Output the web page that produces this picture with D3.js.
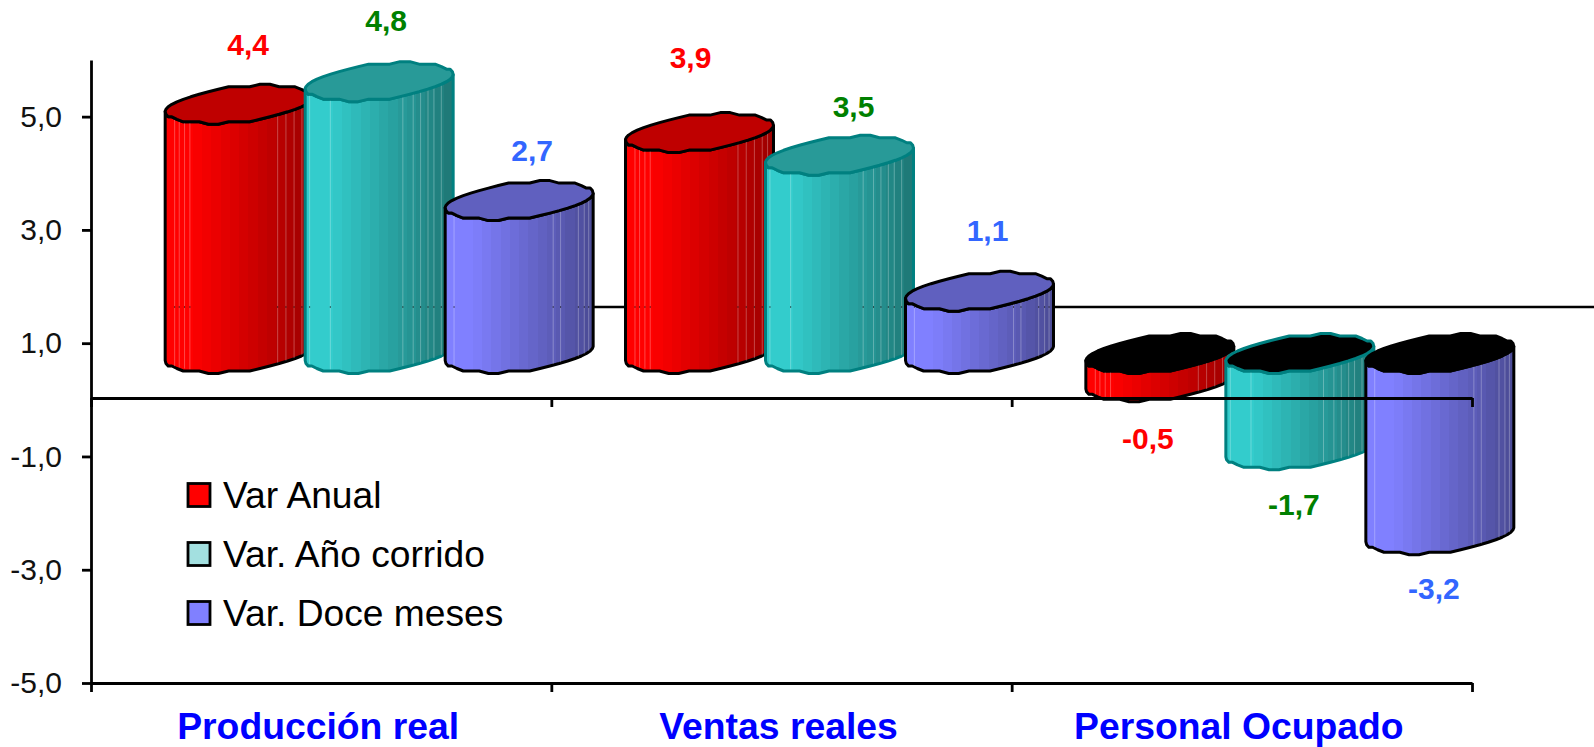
<!DOCTYPE html>
<html><head><meta charset="utf-8">
<script src="https://cdnjs.cloudflare.com/ajax/libs/d3/7.8.5/d3.min.js"></script>
<style>html,body{margin:0;padding:0;background:#fff}svg{display:block}text{font-family:"Liberation Sans",Arial,sans-serif}</style>
</head><body><svg id="c" width="1594" height="747"></svg>
<script>
const categories = ["Producción real","Ventas reales","Personal Ocupado"];
const seriesNames = ["Var Anual","Var. Año corrido","Var. Doce meses"];
const varAnual = [4.4,3.9,-0.5];
const varAnioCorrido = [4.8,3.5,-1.7];
const varDoceMeses = [2.7,1.1,-3.2];
const seriesValues = [varAnual,varAnioCorrido,varDoceMeses];
const yTicks = [5,3,1,-1,-3,-5];

// styling and layout, kept apart from the data
const sideLeft = ["#ff0000","#33cccc","#8080ff"];
const sideRight = ["#a00000","#1f7a78","#4d4d99"];
const topFill = ["#bf0000","#289a98","#6060bf"];
const strokes = ["#000","#008080","#000"];
const labelColors = ["#ff0000","#008000","#3366ff"];
const legendFill = ["#ff0000","#a3e0e0","#8080ff"];
const seams = [[.064,.095,.131,.167,.76,.816,.871,.924,.96],[.03,.17,.66,.73,.78,.83,.87,.92],[.06,.73,.78,.9,.94,.97]];
const labelNudge = [ // [dx,dy] per category, per series
 [[9,-0.5],[7,-1.5],[13,9.5]],
 [[-9,-15.5],[14,10.5],[8,-1.5]],
 [[-12,3.5],[-6,1.5],[-6,0.5]]];

const svg = d3.select("#c");
const L=91,R=1472,T=60,B=683;
const y = d3.scaleLinear().domain([-5,6]).range([B,T]);
const zeroY = 398;
const x0 = d3.scaleBand().domain(categories).range([L,R]);
const xEdges = d3.scaleLinear().domain([0,3]).range([L,R]);
const x1 = d3.scaleBand().domain(seriesNames).range([-210,210]);
const DX=58, DY=-44.5, WALLY=307, WALLX=207;
const a=x1.bandwidth()*1.057/2, b=17.5, k=7;

function ell(cx,cy,t){return [cx+a*Math.cos(t), cy+b*Math.sin(t)-k*Math.cos(t)];}
function snap(p,cy,tEnd){ return [p[0], tEnd?p[1]:cy+Math.round((p[1]-cy)/2.5)*2.5]; }
const N=22;
// front arc, left to right; t from PI to 0
function frontArc(cx,cy){
  return d3.range(N+1).map(i=>{const t=Math.PI*(1-i/N);return snap(ell(cx,cy,t),cy,i===0||i===N);});
}
function backArc(cx,cy){
  return d3.range(N+1).map(i=>{const t=-Math.PI*(i/N);return snap(ell(cx,cy,t),cy,i===0||i===N);}); // right to left over back
}
const line=d3.line();
const defs=svg.append("defs");
seriesNames.forEach((s,j)=>{
  const g=defs.append("linearGradient").attr("id","g"+j);
  const c=d3.interpolateRgb(sideLeft[j],sideRight[j]), n=16;
  d3.range(n).forEach(i=>{
    const f0=i/n,f1=(i+1)/n, v=Math.max(0,(f0-.14)/.8);
    const col=c(Math.min(1,v));
    g.append("stop").attr("offset",f0).attr("stop-color",col);
    g.append("stop").attr("offset",f1).attr("stop-color",col);
  });
});

// back wall zero line
svg.append("line").attr("x1",WALLX).attr("x2",1594).attr("y1",WALLY).attr("y2",WALLY).attr("stroke","#000").attr("stroke-width",2.6);

// cylinders
categories.forEach((cat,ci)=>{
  seriesNames.forEach((s,j)=>{
    const v=seriesValues[j][ci];
    const cx=x0(cat)+x0.bandwidth()/2+DX+x1(s)+x1.bandwidth()/2;
    const yv=(v>=0?y(v)-(y(0)-zeroY):zeroY+(y(v)-y(0)))+DY, yb=zeroY+DY;
    const cyTop=Math.min(yv,yb), cyBot=Math.max(yv,yb);
    const g=svg.append("g");
    const side=frontArc(cx,cyTop).concat(frontArc(cx,cyBot).reverse());
    g.append("path").attr("d",line(side)+"Z").attr("fill",`url(#g${j})`)
      .attr("stroke",strokes[j]).attr("stroke-width",3).attr("stroke-linejoin","round");
    seams[j].forEach(f=>{
      const t=Math.acos(2*f-1);
      const sx=cx+a*(2*f-1), dy=b*Math.sin(t)-k*(2*f-1);
      g.append("line").attr("x1",sx).attr("x2",sx).attr("y1",cyTop+dy).attr("y2",cyBot+dy-2)
        .attr("stroke","#fff").attr("stroke-opacity",.28).attr("stroke-width",1);
      if(cyTop+dy<WALLY&&cyBot+dy>WALLY)
        g.append("line").attr("x1",sx).attr("x2",sx).attr("y1",WALLY-1).attr("y2",WALLY+1)
          .attr("stroke","#000").attr("stroke-opacity",.55).attr("stroke-width",1);
    });
    const top=frontArc(cx,cyTop).concat(backArc(cx,cyTop).slice(1,-1));
    g.append("path").attr("d",line(top)+"Z").attr("fill",v<0?"#000":topFill[j])
      .attr("stroke",strokes[j]).attr("stroke-width",3).attr("stroke-linejoin","round");
  });
});

// axes
function styleAxis(g){
  g.selectAll(".domain").attr("stroke","#000").attr("stroke-width",2.8);
  g.selectAll(".tick line").attr("stroke","#000").attr("stroke-width",2.8);
}
const ax=svg.append("g").attr("transform",`translate(${L},0)`)
  .call(d3.axisLeft(y).tickValues(yTicks).tickSize(9).tickSizeOuter(0).tickPadding(20)
    .tickFormat(d=>d3.format(".1f")(d).replace(".",",").replace("−","-")));
styleAxis(ax);
ax.selectAll(".tick text").attr("font-size",30).attr("fill","#111").attr("font-family","Liberation Sans");
[zeroY,B].forEach(py=>{
  const g=svg.append("g").attr("transform",`translate(0,${py})`)
    .call(d3.axisBottom(xEdges).tickValues([0,1,2,3]).tickSize(9).tickSizeOuter(0).tickFormat(""));
  styleAxis(g);
});

// category labels
svg.append("g").selectAll("text").data(categories).join("text")
  .attr("x",d=>x0(d)+x0.bandwidth()/2-3).attr("y",739)
  .attr("text-anchor","middle").attr("font-size",37.3).attr("font-weight","bold").attr("fill","#0000ff").text(d=>d);

// value labels
categories.forEach((cat,ci)=>{
  seriesNames.forEach((s,j)=>{
    const v=seriesValues[j][ci];
    const cx=x0(cat)+x0.bandwidth()/2+DX+x1(s)+x1.bandwidth()/2;
    const yv=(v>=0?y(v)-(y(0)-zeroY):zeroY+(y(v)-y(0)))+DY;
    const n=labelNudge[ci][j];
    const ly=(v>=0? yv-18-41 : yv+18+36)+n[1];
    svg.append("text").attr("x",cx+n[0]).attr("y",ly+10).attr("text-anchor","middle")
      .attr("font-size",30).attr("font-weight","bold").attr("fill",labelColors[j])
      .text(d3.format(".1f")(v).replace(".",",").replace("−","-"));
  });
});

// legend
const legendY=d3.scalePoint().domain(seriesNames).range([495,613]);
const lg=svg.append("g").selectAll("g").data(seriesNames).join("g")
  .attr("transform",d=>`translate(188,${legendY(d)})`);
lg.append("rect").attr("x",0).attr("y",-11.5).attr("width",22).attr("height",23)
  .attr("fill",(d,i)=>legendFill[i]).attr("stroke","#000").attr("stroke-width",2.8);
lg.append("text").attr("x",35).attr("y",13).attr("font-size",37.2).attr("fill","#000").text(d=>d);
</script></body></html>
